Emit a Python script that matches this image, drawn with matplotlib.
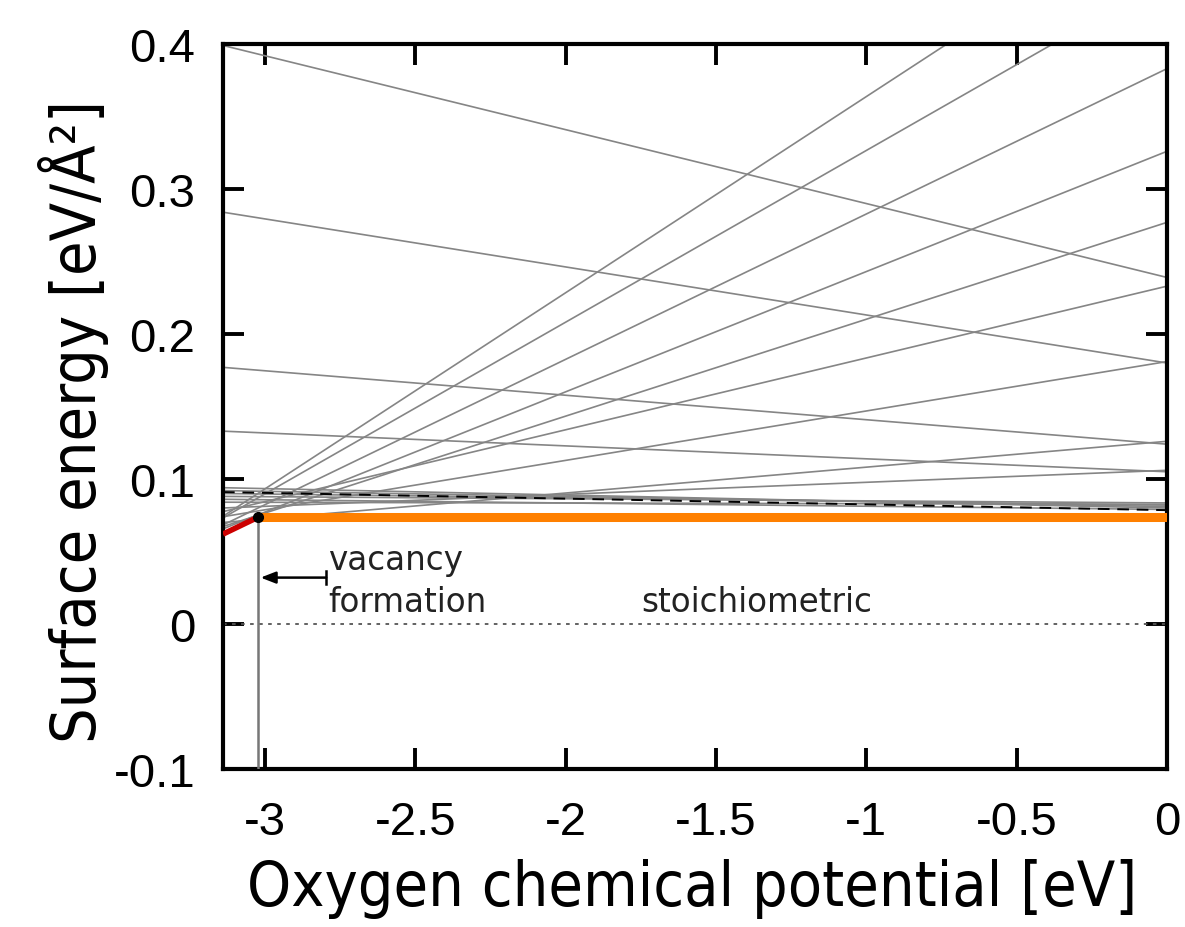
import matplotlib
matplotlib.use("Agg")
import matplotlib.pyplot as plt
import numpy as np

# x-range of the chart (oxygen chemical potential, eV)
x_left = -3.14
x_right = 0.0

# gray surface-energy lines: value at left edge and at right edge (eV/A^2)
gray_left = [0.399, 0.284, 0.177, 0.133,            # decreasing lines
             0.0743, 0.0732, 0.0683, 0.0656, 0.0672, 0.0775, 0.074, 0.070, 0.080,  # rising fan
             0.094, 0.092, 0.090, 0.088, 0.086, 0.084]  # nearly flat band
gray_right = [0.239, 0.180, 0.124, 0.105,
              0.499, 0.445, 0.383, 0.326, 0.277, 0.233, 0.181, 0.126, 0.106,
              0.080, 0.081, 0.082, 0.0835, 0.079, 0.0825]

# black dashed line
dashed_left, dashed_right = 0.091, 0.0785

# lowest-energy path: red segment then orange (stoichiometric)
red_x = [-3.14, -3.025]
red_y = [0.062, 0.0735]
orange_x = [-3.025, 0.0]
orange_y = [0.0735, 0.0735]
vac_x = -3.025

xticks = [-3, -2.5, -2, -1.5, -1, -0.5, 0]
xticklabels = ["-3", "-2.5", "-2", "-1.5", "-1", "-0.5", "0"]
yticks = [-0.1, 0, 0.1, 0.2, 0.3, 0.4]
yticklabels = ["-0.1", "0", "0.1", "0.2", "0.3", "0.4"]

fig = plt.figure(figsize=(11.85, 9.28), dpi=100)
ax = fig.add_axes([223/1185, 1-770/928, (1167-223)/1185, (770-45)/928])

xs = [x_left, x_right]
for yl, yr in zip(gray_left, gray_right):
    ax.plot(xs, [yl, yr], color="#858585", lw=1.2, zorder=2)
ax.plot(xs, [dashed_left, dashed_right], color="black", lw=1.4, ls=(0, (6, 4)), zorder=3)

ax.plot([x_left, x_right], [0, 0], color="#555555", lw=1.3, ls=(0, (2, 3)), zorder=2)
ax.plot([vac_x, vac_x], [-0.1, orange_y[0]], color="#777777", lw=1.8, zorder=3)

ax.plot(orange_x, orange_y, color="#ff8000", lw=6.5, solid_capstyle="butt", zorder=4)
ax.plot(red_x, red_y, color="#cc0000", lw=4, solid_capstyle="butt", zorder=4)
ax.plot([vac_x], [orange_y[0]], "o", color="black", ms=7, zorder=5)

# arrow for vacancy formation
arr_y = 0.032
tail_x = -2.797
ax.annotate("", xy=(vac_x + 0.01, arr_y), xytext=(tail_x, arr_y),
            arrowprops=dict(arrowstyle="-|>,head_length=0.9,head_width=0.35",
                            color="black", lw=1.8, shrinkA=0, shrinkB=0), zorder=5)
ax.plot([tail_x, tail_x], [arr_y - 0.0045, arr_y + 0.0045], color="black", lw=1.8, zorder=5)

ax.text(-2.79, 0.0379, "vacancy", fontsize=23.5, family="DejaVu Sans", va="baseline", ha="left", color="#222222")
ax.text(-2.79, 0.0092, "formation", fontsize=23.5, family="DejaVu Sans", va="baseline", ha="left", color="#222222")
ax.text(-1.365, 0.009, "stoichiometric", fontsize=23.5, family="DejaVu Sans", va="baseline", ha="center", color="#222222")

ax.set_xlim(x_left, x_right)
ax.set_ylim(-0.1, 0.4)
ax.set_xticks(xticks)
ax.set_xticklabels(xticklabels)
ax.set_yticks(yticks)
ax.set_yticklabels(yticklabels)
for lab in ax.get_xticklabels() + ax.get_yticklabels():
    lab.set_family("Liberation Sans")
    lab.set_fontsize(34)
ax.tick_params(direction="in", length=15, width=2.8, top=True, right=True)
ax.tick_params(axis="x", pad=22)
ax.tick_params(axis="y", pad=20)
for sp in ax.spines.values():
    sp.set_linewidth(3)

fig.text(692/1185, 1-906/928, "Oxygen chemical potential [eV]", fontsize=45,
         family="DejaVu Sans", fontstretch="condensed", ha="center", va="baseline")
fig.text(74/1185, 1-422/928, "Surface energy [eV/Å²]", fontsize=45,
         family="DejaVu Sans", fontstretch="condensed", rotation=90, ha="center", va="center")

fig.savefig("out.png", dpi=100)
